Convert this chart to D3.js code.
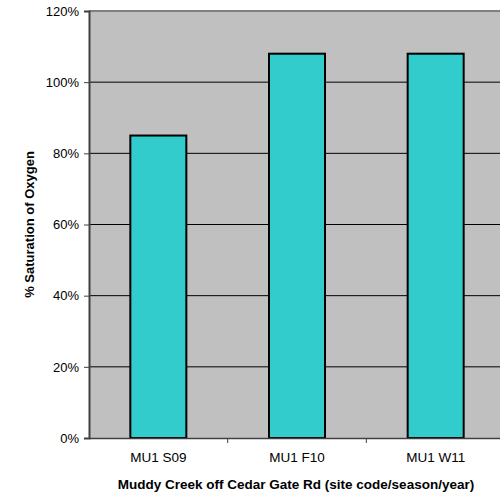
<!DOCTYPE html>
<html><head><meta charset="utf-8">
<script src="https://cdn.jsdelivr.net/npm/d3@7"></script>
<style>body{margin:0;background:#fff;}svg{display:block;font-family:"Liberation Sans",Arial,sans-serif;}</style>
</head><body>
<script>
const categories = ["MU1 S09", "MU1 F10", "MU1 W11"];
const values = [85, 108, 108];
const yTicks = [0, 20, 40, 60, 80, 100, 120];
const yTitle = "% Saturation of Oxygen";
const xTitle = "Muddy Creek off Cedar Gate Rd (site code/season/year)";

const W = 500, H = 497;
const m = {left: 89, top: 11, right: -5, bottom: 59};
const svg = d3.select("body").append("svg").attr("width", W).attr("height", H);
const x = d3.scaleBand().domain(categories).range([m.left, W - m.right]).paddingInner(0).paddingOuter(0);
const y = d3.scaleLinear().domain([0, 120]).range([H - m.bottom, m.top]);

svg.append("rect").attr("x", m.left).attr("y", m.top).attr("width", W - m.right - m.left).attr("height", y(0) - m.top).attr("fill", "#C0C0C0");

svg.append("g").selectAll("line").data(yTicks.filter(d => d > 0 && d < 120)).join("line")
  .attr("x1", m.left).attr("x2", W - m.right).attr("y1", d => y(d)).attr("y2", d => y(d))
  .attr("stroke", "#000").attr("stroke-width", 1);

svg.append("line").attr("x1", m.left).attr("x2", W).attr("y1", m.top).attr("y2", m.top).attr("stroke", "#808080").attr("stroke-width", 2);

const bw = 56;
svg.append("g").selectAll("rect").data(values).join("rect")
  .attr("x", (d, i) => x(categories[i]) + x.bandwidth() / 2 - bw / 2)
  .attr("width", bw)
  .attr("y", d => y(d)).attr("height", d => y(0) - y(d))
  .attr("fill", "#33CCCC").attr("stroke", "#000").attr("stroke-width", 2);

const yAxis = svg.append("g").attr("transform", `translate(${m.left},0)`)
  .call(d3.axisLeft(y).tickValues(yTicks).tickFormat(d => d + "%").tickSize(5).tickPadding(5));
yAxis.select(".domain").attr("stroke", "#404040").attr("stroke-width", 2);
yAxis.selectAll(".tick line").attr("stroke", "#404040");
yAxis.selectAll("text").attr("font-size", 13).attr("fill", "#000").attr("font-family", "Liberation Sans, Arial, sans-serif");

const xAxis = svg.append("g").attr("transform", `translate(0,${y(0)})`)
  .call(d3.axisBottom(x).tickSize(0).tickPadding(14));
xAxis.select(".domain").attr("stroke", "#404040").attr("stroke-width", 1.5);
xAxis.selectAll("text").attr("font-size", 13.5).attr("fill", "#000").attr("font-family", "Liberation Sans, Arial, sans-serif");
svg.append("g").selectAll("line").data(categories.slice(1)).join("line")
  .attr("x1", d => x(d)).attr("x2", d => x(d)).attr("y1", y(0)).attr("y2", y(0) + 5)
  .attr("stroke", "#404040");

svg.append("text").attr("x", 296).attr("y", 489).attr("text-anchor", "middle")
  .attr("font-size", 13.5).attr("font-weight", "bold").text(xTitle);
svg.append("text").attr("transform", `translate(34,${(m.top + y(0)) / 2}) rotate(-90)`).attr("text-anchor", "middle")
  .attr("font-size", 13).attr("font-weight", "bold").text(yTitle);
</script>
</body></html>
